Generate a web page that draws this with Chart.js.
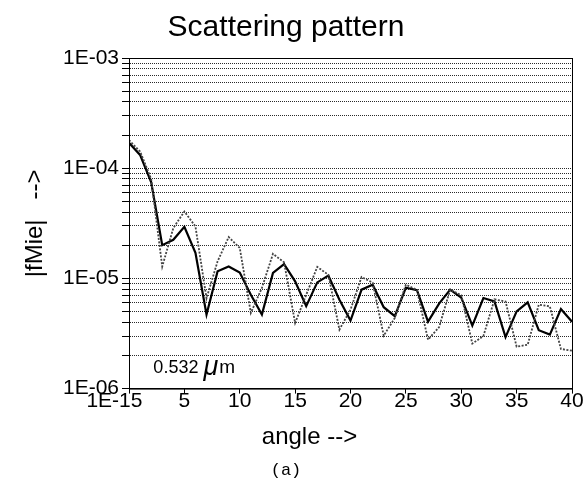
<!DOCTYPE html>
<html>
<head>
<meta charset="utf-8">
<title>Scattering pattern</title>
<script src="https://cdn.jsdelivr.net/npm/chart.js@4.4.1/dist/chart.umd.min.js"></script>
<style>
    html, body { margin: 0; padding: 0; background: #fff; }
    #wrap { width: 587px; height: 485px; }
</style>
</head>
<body>
<div id="wrap"><canvas id="ScatterChart"></canvas></div>
<script>
// angle (deg) of each sample
var angles = [0, 1, 2, 3, 4, 5, 6, 7, 8, 9, 10, 11, 12, 13, 14, 15, 16, 17, 18, 19, 20,
    21, 22, 23, 24, 25, 26, 27, 28, 29, 30, 31, 32, 33, 34, 35, 36, 37, 38, 39, 40];

// |fMie|, solid curve
var fMieSolid = [1.7e-4, 1.32e-4, 7.5e-5, 2.0e-5, 2.24e-5, 2.94e-5, 1.71e-5, 4.7e-6, 1.16e-5, 1.28e-5,
    1.13e-5, 7.1e-6, 4.7e-6, 1.12e-5, 1.35e-5, 9.4e-6, 5.6e-6, 9.2e-6, 1.06e-5, 6.4e-6,
    4.14e-6, 7.9e-6, 8.77e-6, 5.48e-6, 4.54e-6, 8.24e-6, 7.82e-6, 4.05e-6, 5.9e-6, 7.9e-6,
    6.68e-6, 3.73e-6, 6.64e-6, 6.18e-6, 2.93e-6, 5.02e-6, 6.06e-6, 3.39e-6, 3.09e-6, 5.28e-6,
    4.05e-6];

// |fMie|, dotted curve
var fMieDotted = [1.8e-4, 1.42e-4, 8.0e-5, 1.28e-5, 2.86e-5, 4.05e-5, 2.96e-5, 6.6e-6, 1.43e-5, 2.37e-5,
    1.89e-5, 4.86e-6, 8.2e-6, 1.67e-5, 1.4e-5, 3.94e-6, 7.1e-6, 1.27e-5, 1.08e-5, 3.43e-6,
    5.2e-6, 1.03e-5, 9.15e-6, 3.02e-6, 4.38e-6, 8.77e-6, 7.85e-6, 2.78e-6, 3.61e-6, 7.9e-6,
    7.04e-6, 2.56e-6, 3.0e-6, 6.45e-6, 6.18e-6, 2.4e-6, 2.5e-6, 5.78e-6, 5.57e-6, 2.29e-6,
    2.21e-6];

var xTickValues = [0, 5, 10, 15, 20, 25, 30, 35, 40];
var xTickLabels = ['1E-15     ', '5', '10', '15', '20', '25', '30', '35', '40'];
var yMajorValues = [1e-6, 1e-5, 1e-4, 1e-3];
var yMajorLabels = ['1E-06', '1E-05', '1E-04', '1E-03'];

var titleText = 'Scattering pattern';
var xTitle = 'angle -->';
var yTitle = '|fMie|   -->';
var panelText = '(a)';

// one grid line per 1..9 x decade
var yGridValues = [];
yMajorValues.forEach(function (m, i) {
    if (i === yMajorValues.length - 1) {
        yGridValues.push(m);
        return;
    }
    for (var k = 1; k <= 9; k++) {
        yGridValues.push(k * m);
    }
});

var sansFont = '"Liberation Sans", Arial, Helvetica, sans-serif';

drawScatterChart();
function drawScatterChart() {
    var ctx = document.getElementById('ScatterChart');

    // solid box round the plot
    var frame = {
        id: 'frame',
        afterDatasetsDraw: function (chart) {
            var a = chart.chartArea;
            var c = chart.ctx;
            c.save();
            c.strokeStyle = '#000';
            c.lineWidth = 1;
            c.strokeRect(a.left + 0.5, a.top + 0.5, a.right - a.left, a.bottom - a.top);
            c.restore();
        }
    };

    // x title and the wavelength note
    var notes = {
        id: 'notes',
        afterDraw: function (chart) {
            var c = chart.ctx;
            var xs = chart.scales.x;
            var ys = chart.scales.y;
            c.save();
            c.fillStyle = '#000';
            c.textBaseline = 'alphabetic';

            c.textAlign = 'center';
            c.font = '24px ' + sansFont;
            c.fillText(xTitle, chart.width / 2 + 16, 444);

            c.textAlign = 'left';
            var x = xs.getPixelForValue(2.2);
            var y = ys.getPixelForValue(1.38e-6);
            c.font = '18px ' + sansFont;
            c.fillText('0.532 ', x, y);
            x += c.measureText('0.532 ').width;
            c.font = 'italic 27px ' + sansFont;
            c.fillText('\u03bc', x, y + 2);
            x += c.measureText('\u03bc').width + 1;
            c.font = '19px ' + sansFont;
            c.fillText('m', x, y);
            c.restore();
        }
    };

    var data = {
        datasets: [{
            label: 'dotted',
            data: angles.map((a, i) => ({ x: a, y: fMieDotted[i] })),
            borderColor: '#444',
            borderWidth: 1.8,
            borderDash: [2, 1.5],
            pointRadius: 0,
            tension: 0
        }, {
            label: 'solid',
            data: angles.map((a, i) => ({ x: a, y: fMieSolid[i] })),
            borderColor: '#000',
            borderWidth: 2.2,
            pointRadius: 0,
            tension: 0
        }]
    };

    var config = {
        type: 'line',
        data: data,
        plugins: [frame, notes],
        options: {
            responsive: true,
            maintainAspectRatio: false,
            animation: false,
            layout: {
                padding: { left: 0, right: 15, top: 0, bottom: 0 }
            },
            plugins: {
                legend: { display: false },
                tooltip: { enabled: false },
                title: {
                    display: true,
                    text: titleText,
                    color: '#000',
                    font: { family: sansFont, size: 30, weight: 'normal', lineHeight: 1.2 },
                    padding: { top: 10, bottom: 12 }
                },
                subtitle: {
                    display: true,
                    position: 'bottom',
                    text: panelText,
                    color: '#000',
                    font: { family: '"Liberation Mono", "Courier New", monospace', size: 17, lineHeight: 1.2 },
                    padding: { top: 0, bottom: 4 }
                }
            },
            scales: {
                x: {
                    type: 'linear',
                    min: 0,
                    max: 40,
                    afterBuildTicks: function (scale) {
                        scale.ticks = xTickValues.map(v => ({ value: v }));
                    },
                    afterFit: function (scale) {
                        scale.height = 72;
                    },
                    ticks: {
                        autoSkip: false,
                        maxRotation: 0,
                        color: '#000',
                        padding: -3,
                        font: { family: sansFont, size: 21, lineHeight: 1 },
                        callback: function (value, index) {
                            return xTickLabels[index];
                        }
                    },
                    grid: {
                        display: true,
                        drawOnChartArea: false,
                        drawTicks: true,
                        tickLength: 5,
                        color: '#000'
                    },
                    border: { display: true, color: '#000', width: 1 }
                },
                y: {
                    type: 'logarithmic',
                    min: 1e-6,
                    max: 1e-3,
                    afterBuildTicks: function (scale) {
                        scale.ticks = yGridValues.map(v => ({ value: v }));
                    },
                    afterFit: function (scale) {
                        scale.width = 129;
                    },
                    ticks: {
                        autoSkip: false,
                        color: '#000',
                        padding: 3,
                        font: { family: sansFont, size: 21 },
                        callback: function (value) {
                            var i = yMajorValues.findIndex(m => Math.abs(value / m - 1) < 1e-6);
                            return i >= 0 ? yMajorLabels[i] : '';
                        }
                    },
                    grid: {
                        color: '#2a2a2a',
                        lineWidth: 1,
                        tickLength: 7,
                        tickColor: '#000'
                    },
                    border: { display: true, color: '#000', width: 1, dash: [1, 1] },
                    title: {
                        display: true,
                        text: yTitle,
                        color: '#000',
                        font: { family: sansFont, size: 24, lineHeight: 1.2 },
                        padding: { top: 21, bottom: 0 }
                    }
                }
            }
        }
    };

    var myChart = new Chart(ctx, config);
}
</script>
</body>
</html>
